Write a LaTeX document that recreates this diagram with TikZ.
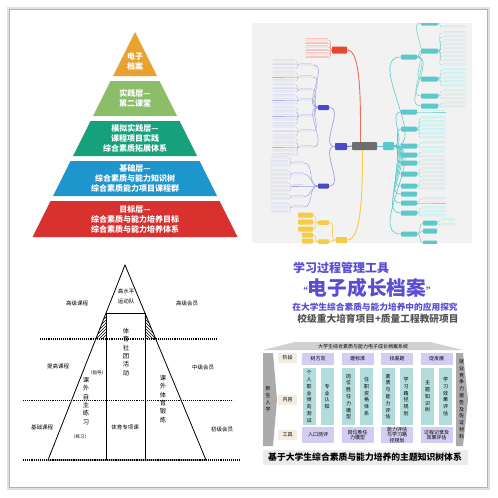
\documentclass[tikz,border=0pt]{standalone}
\usepackage{fontspec}
\setmainfont{Noto Sans CJK SC}
\usepackage{xcolor}
\usepackage{tikz}
\usetikzlibrary{positioning,calc,patterns}

\definecolor{pyorange}{HTML}{E9A230}
\definecolor{pygreen}{HTML}{8CBE6A}
\definecolor{pyteal}{HTML}{16A07B}
\definecolor{pyblue}{HTML}{1E96CD}
\definecolor{pyred}{HTML}{D8312F}
\definecolor{mmbg}{HTML}{F2F2F2}
\definecolor{mmgray}{HTML}{6E6E6E}
\definecolor{mmred}{HTML}{E8462D}
\definecolor{mmpurple}{HTML}{4A4AC4}
\definecolor{mmlight}{HTML}{9C9CE0}
\definecolor{mmteal}{HTML}{5BC9CB}
\definecolor{mmyellow}{HTML}{F6CB45}
\definecolor{titleblue}{HTML}{5A4CD3}
\definecolor{titlegray}{HTML}{555555}
\definecolor{stagefill}{HTML}{D2CDF2}
\definecolor{contfill}{HTML}{B3DCDC}
\definecolor{rowfill}{HTML}{F5ECE1}
\definecolor{arrowgray}{HTML}{ABABAB}

\tikzset{
  pyrtext/.style={text=white, font=\fontsize{8}{10}\selectfont\bfseries, align=center, inner sep=0pt},
  spline/.style={line width=0.8pt},
  dotline/.style={densely dotted, line width=1.1pt},
  sptext/.style={font=\fontsize{5.5}{10.5}\selectfont, align=center, inner sep=0pt},
  spvert/.style={font=\fontsize{6.3}{8.4}\selectfont, align=center, inner sep=0pt},
  mmnode/.style={rectangle, rounded corners=0.8pt, inner sep=0pt},
  tabbox/.style={rectangle, inner sep=0pt, font=\fontsize{5}{6.8}\selectfont, align=center},
}

\begin{document}
\begin{tikzpicture}[x=1pt,y=-1pt]
\useasboundingbox (0,0) rectangle (498,498);
\fill[white] (0,0) rectangle (498,498);
\draw[black!12, line width=3pt] (8,8.5) rectangle (488.5,488);
\draw[black!30, line width=1pt] (9,9.5) rectangle (487.5,487);

% top left: five-layer pyramid
\fill[pyorange] (135,32) -- (157,76) -- (113,76) -- cycle;
\node[pyrtext] (apex) at (135,61) {电子\\档案};
\foreach \ya/\yb/\col/\txt [count=\i] in {
  81/116/pygreen/{实践层—\\第二课堂},
  121/156/pyteal/{模拟实践层—\\课程项目实践\\综合素质拓展体系},
  161/196/pyblue/{基础层—\\综合素质与能力知识树\\综合素质能力项目课程群},
  201/237/pyred/{目标层—\\综合素质与能力培养目标\\综合素质与能力培养体系}} {
  \fill[\col] ({135-0.5*(\ya-32)},\ya) -- ({135+0.5*(\ya-32)},\ya) -- ({135+0.5*(\yb-32)},\yb) -- ({135-0.5*(\yb-32)},\yb) -- cycle;
  \node[pyrtext] (layer\i) at (135,{(\ya+\yb)/2}) {\txt};
}

% top right: mind map
\fill[mmbg] (252,23) rectangle (472,243);
\begin{scope}
\clip (252,23) rectangle (472,243);
\node[mmnode, fill=mmgray, minimum width=25pt, minimum height=8pt] (cn) at (364.5,146) {};
% red branch
\node[mmnode, fill=mmred, minimum width=15pt, minimum height=7pt] (rn) at (339.5,50) {};
\draw[mmred!80, line width=0.9pt] ([xshift=-4pt]cn.north) .. controls +(0,-40) and +(14,0) .. (rn.east);
\foreach \ly in {40,43.5,47,50.5,54,57.5} {
  \draw[mmred!70, line width=0.3pt] (rn.west) to[out=180,in=0] (329,\ly) -- (305,\ly);
  \fill[mmred!30] (306,\ly-2) rectangle (328,\ly-0.9);
}
% purple branch
\node[mmnode, fill=mmpurple, minimum width=12pt, minimum height=7pt] (pa) at (341,146.5) {};
\draw[mmpurple!80, line width=0.9pt] (cn.west) -- (pa.east);
\node[mmnode, fill=mmpurple, minimum width=11pt, minimum height=5pt] (pb) at (323.5,107.5) {};
\node[mmnode, fill=mmpurple, minimum width=11pt, minimum height=5pt] (pc) at (323.5,186) {};
\draw[mmlight, line width=0.7pt] (pa.west) to[out=180,in=0] (pb.east);
\draw[mmlight, line width=0.7pt] (pa.west) to[out=180,in=0] (pc.east);
\foreach \cy/\leaves in {65/{61,64.5,69}, 77/{73,77,81}, 90/{85,88.5,92}, 100/{96,100,104},
    116/{108,112,116,120,124}, 131/{127,131.5,136}, 147/{139,143,147,151,155}} {
  \draw[mmlight, line width=0.45pt] (pb.west) to[out=180,in=0] (313,\cy) -- (299,\cy);
  \fill[mmlight!40] (300,\cy-2) rectangle (312,\cy-0.9);
  \foreach \ly in \leaves {
    \draw[mmlight!80, line width=0.3pt] (299,\cy) to[out=180,in=0] (296,\ly) -- (272,\ly);
    \fill[mmlight!30] (273,\ly-2) rectangle (295,\ly-0.9);
  }
}
\foreach \cy/\leaves in {163/{158,162,166}, 174/{171,175,179}, 186/{183,187,191}, 197/{195,199}, 207/{204,208,212}} {
  \draw[mmlight, line width=0.45pt] (pc.west) to[out=180,in=0] (304,\cy) -- (292,\cy);
  \fill[mmlight!40] (293,\cy-2) rectangle (303,\cy-0.9);
  \foreach \ly in \leaves {
    \draw[mmlight!80, line width=0.3pt] (292,\cy) to[out=180,in=0] (289,\ly) -- (270,\ly);
    \fill[mmlight!30] (271,\ly-2) rectangle (288,\ly-0.9);
  }
}
% teal branch
\node[mmnode, fill=mmteal, minimum width=11pt, minimum height=8pt] (tn) at (388.5,146) {};
\draw[mmteal, line width=0.9pt] (cn.east) -- (tn.west);
\foreach \cy [count=\k] in {57,112,129,146,155,163,174,186,194,203,213,234} {
  \node[mmnode, fill=mmteal, minimum width=16pt, minimum height=5pt] (tc\k) at (409,\cy) {};
  \draw[mmteal, line width=0.6pt] (tn.east) to[out=0,in=180] (tc\k.west);
}
\foreach \k/\leaves in {2/{112}, 3/{118,122,126,130,134,138}, 4/{143,148}, 5/{152,157}, 6/{161,165},
    7/{169,173,177}, 8/{181,185,189}, 10/{199,203}, 11/{208,212,216}} {
  \foreach \ly in \leaves {
    \draw[mmteal!80, line width=0.3pt] (tc\k.east) to[out=0,in=180] (421,\ly) -- (446,\ly);
    \fill[mmteal!30] (422,\ly-2) rectangle (445,\ly-0.9);
  }
}
\foreach \sy/\leaves [count=\j] in {23/{22,27}, 51/{33,37,41,45,49,53,57,61,65}, 79/{70,74,78,82,86}, 96/{91,95,99}, 106/{103,107}} {
  \node[mmnode, fill=mmteal, minimum width=17pt, minimum height=5pt] (ts\j) at (429.5,\sy) {};
  \draw[mmteal, line width=0.45pt] (tc1.east) to[out=0,in=180] (ts\j.west);
  \foreach \ly in \leaves {
    \draw[mmteal!80, line width=0.3pt] (ts\j.east) to[out=0,in=180] (442,\ly) -- (466,\ly);
    \fill[mmteal!30] (443,\ly-2) rectangle (465,\ly-0.9);
  }
}
\foreach \sy [count=\j] in {223,231,243} {
  \node[mmnode, fill=mmteal, minimum width=14pt, minimum height=5pt] (tl\j) at (430,\sy) {};
  \draw[mmteal, line width=0.45pt] (tc12.east) to[out=0,in=180] (tl\j.west);
}
\foreach \ly in {220,225} {
  \draw[mmteal!80, line width=0.3pt] (tl1.east) to[out=0,in=180] (440,\ly) -- (456,\ly);
  \fill[mmteal!30] (441,\ly-2) rectangle (455,\ly-0.9);
}
% yellow branch
\node[mmnode, fill=mmyellow, minimum width=11pt, minimum height=6pt] (yn) at (341.5,240) {};
\draw[mmyellow, line width=0.9pt] ([xshift=-2pt]cn.south) .. controls +(0,45) and +(14,0) .. (yn.east);
\node[mmnode, fill=mmyellow, minimum width=11pt, minimum height=4.5pt] (ya) at (323.5,222.5) {};
\node[mmnode, fill=mmyellow, minimum width=11pt, minimum height=4.5pt] (yb) at (323.5,241.5) {};
\draw[mmyellow, line width=0.6pt] (yn.west) to[out=180,in=0] (ya.east);
\draw[mmyellow, line width=0.6pt] (yn.west) to[out=180,in=0] (yb.east);
\foreach \ly in {215,222,229} {
  \node[mmnode, fill=mmyellow, minimum width=15pt, minimum height=5pt] (yl) at (305.5,\ly) {};
  \draw[mmyellow, line width=0.45pt] (ya.west) to[out=180,in=0] (yl.east);
}
\foreach \ly in {235,241} {
  \node[mmnode, fill=mmyellow, minimum width=11pt, minimum height=5pt] (ym) at (307.5,\ly) {};
  \draw[mmyellow, line width=0.45pt] (yb.west) to[out=180,in=0] (ym.east);
}
\end{scope}

% bottom left: sports pyramid
\coordinate (tp) at (125,265);
\coordinate (bl) at (48,460);
\coordinate (br) at (206,460);
\coordinate (hl) at ($(tp)!0.246!(bl)$);
\coordinate (hr) at ($(tp)!0.246!(br)$);
\coordinate (ml) at ($(tp)!0.379!(bl)$);
\coordinate (mr) at ($(tp)!0.379!(br)$);
\fill[pattern=north east lines] (hl) -- (ml) -- (hl |- ml) -- cycle;
\fill[pattern=north west lines] (hr) -- (mr) -- (hr |- mr) -- cycle;
\draw[spline] (tp) -- (bl) -- (br) -- cycle;
\draw[spline] (hl) -- (hr);
\draw[spline] (hl) -- (hl |- bl);
\draw[spline] (hr) -- (hr |- br);
\draw[dotline] (40,339) -- (217,339);
\draw[dotline] (23,400.5) -- (233,400.5);
\draw[dotline] (23,460) -- (240,460);
\node[sptext] (team) at (126,296.5) {高水平\\运动队};
\node[sptext] (advc) at (77,303) {高级课程};
\node[sptext] (advm) at (187,303) {高级会员};
\node[spvert] (club) at (126,352) {体\\育\\社\\团\\活\\动};
\node[sptext] (midc) at (58,366) {提高课程};
\node[sptext] (midm) at (203,367) {中级会员};
\node[sptext, font=\fontsize{4.5}{5}\selectfont] (guide) at (97,372.5) {（指导）};
\node[spvert] (selfp) at (86,401) {课\\外\\自\\主\\练\\习};
\node[spvert] (extra) at (163,399) {课\\外\\体\\育\\锻\\炼};
\node[sptext] (basc) at (42,427.5) {基础课程};
\node[sptext] (spec) at (125,427) {体育专项课};
\node[sptext, font=\fontsize{4.5}{5}\selectfont] (pract) at (80,436.5) {（练习）};
\node[sptext] (basm) at (222,429) {初级会员};

% bottom right: titles
\node[text=titleblue, font=\fontsize{12}{12}\selectfont\bfseries, inner sep=0pt] (t1) at (341,268) {学习过程管理工具};
\node[text=titleblue, font=\fontsize{19.7}{20}\selectfont\bfseries, inner sep=0pt] (t2) at (367,288)
  {{\fontsize{10}{10}\selectfont “}电子成长档案{\fontsize{10}{10}\selectfont ”}};
\node[text=titleblue, font=\fontsize{8.7}{9}\selectfont\bfseries, inner sep=0pt] (t3) at (375,307) {在大学生综合素质与能力培养中的应用探究};
\node[text=titlegray, font=\fontsize{9.7}{10}\selectfont\bfseries, inner sep=0pt] (t4) at (378,319) {校级重大培育项目+质量工程教研项目};

% bottom right: system table
\fill[black!18] (263,350) -- (295,342) -- (430,342) -- (463,350) -- cycle;
\node[tabbox] (roof) at (363,346.5) {大学生综合素质与能力电子成长档案系统};
\fill[arrowgray] (263,353) -- (273,353) -- (277,399.5) -- (273,446) -- (263,446) -- cycle;
\node[tabbox] (enter) at (268,399) {新\\生\\入\\学};
\fill[arrowgray] (456,353) -- (463,353) -- (468,399.5) -- (463,446) -- (456,446) -- cycle;
\node[tabbox] (exit) at (461.5,399) {就\\业\\竞\\争\\力\\报\\告\\及\\佐\\证\\材\\料};
\foreach \ry/\txt [count=\i] in {358/阶段, 400/内容, 435/工具}
  \node[tabbox, fill=rowfill, minimum width=19pt, minimum height=10pt] (row\i) at (287.5,\ry) {\txt};
\foreach \cx/\head/\tool [count=\i] in {318/树方向/入口测评, 357.5/建标准/{岗位胜任\\力模型},
    397/找差距/{能力评估\\与学习路\\径规划}, 436.5/促发展/{过程记录及\\效果评估}} {
  \node[tabbox, fill=stagefill, minimum width=32pt, minimum height=12pt] (stage\i) at (\cx,359) {\head};
  \node[tabbox, fill=stagefill, minimum width=32pt, minimum height=16pt, font=\fontsize{5}{5.6}\selectfont] (tool\i) at (\cx,435) {\tool};
}
\foreach \cx/\txt [count=\i] in {309/{个\\人\\职\\业\\倾\\向\\测\\试}, 327/{专\\业\\认\\知},
    348.5/{岗\\位\\胜\\任\\力\\模\\型}, 366.5/{任\\职\\资\\格\\体\\系},
    388/{素\\质\\与\\能\\力\\评\\估}, 406/{学\\习\\路\\径\\规\\划},
    427.5/{主\\题\\知\\识\\树}, 445.5/{学\\习\\效\\果\\评\\估}}
  \node[tabbox, fill=contfill, minimum width=13pt, minimum height=57pt] (cont\i) at (\cx,396.5) {\txt};
\fill[black!8] (263,450) rectangle (468,465);
\node[font=\fontsize{8.8}{9}\selectfont\bfseries, inner sep=0pt] (banner) at (365,457.5) {基于大学生综合素质与能力培养的主题知识树体系};
\end{tikzpicture}
\end{document}
